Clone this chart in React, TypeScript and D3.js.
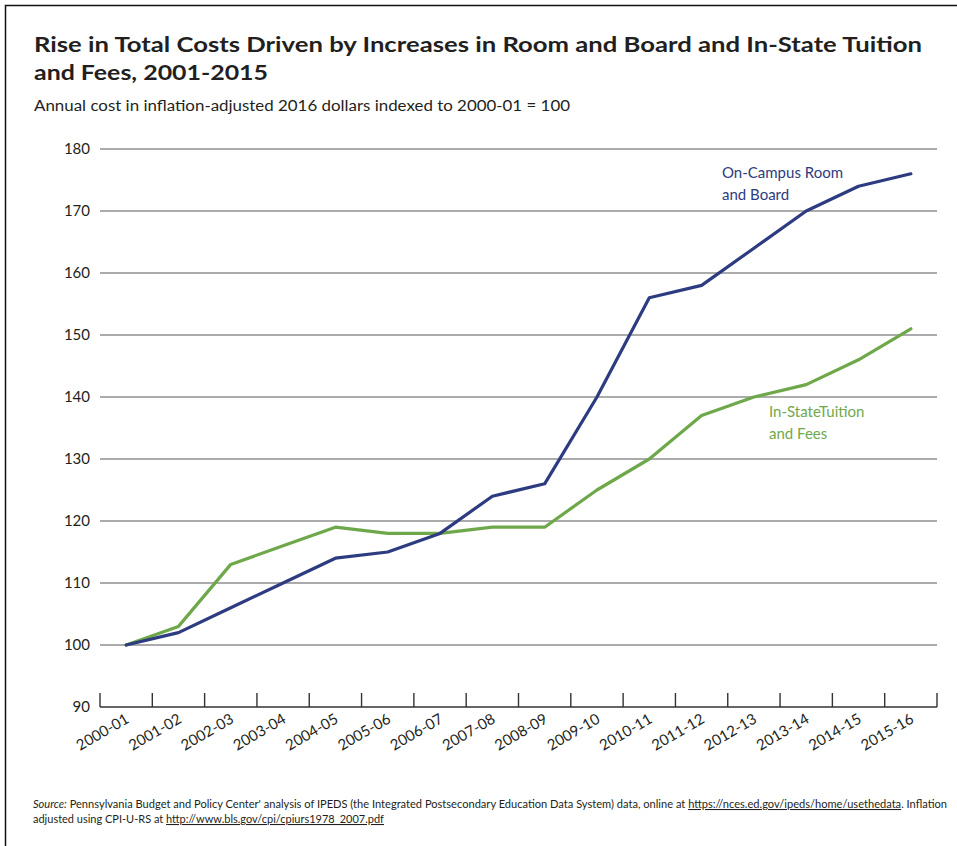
import React from "react";
import * as d3 from "d3";

const years = ["2000-01","2001-02","2002-03","2003-04","2004-05","2005-06","2006-07","2007-08","2008-09","2009-10","2010-11","2011-12","2012-13","2013-14","2014-15","2015-16"];
const roomBoard = [100,102,106,110,114,115,118,124,126,140,156,158,164,170,174,176];
const tuition = [100,103,113,116,119,118,118,119,119,125,130,137,140,142,146,151];
const yTicks = [90,100,110,120,130,140,150,160,170,180];

const W = 957, H = 846;
const FONT = "Lato, 'Open Sans', sans-serif";
const BLUE = "#2d3b80";
const GREEN = "#6fa84b";
const DARK = "#231f20";

export default function App() {
  const x = d3.scaleBand<string>().domain(years).range([100, 937]).padding(0);
  const y = d3.scaleLinear().domain([90, 180]).range([707, 149]);
  const cx = (d: string) => (x(d) as number) + x.bandwidth() / 2;
  const line = d3.line<number>().x((_, i) => cx(years[i])).y(v => y(v));
  const edges = years.map(d => x(d) as number).concat([937]);

  return (
    <svg width={W} height={H} style={{ position: "absolute", left: 0, top: 0, background: "#fff" }} fontFamily={FONT}>
      <rect x={0} y={0} width={W} height={H} fill="#fff" />
      <rect x={5.5} y={5.5} width={W + 10} height={H + 10} fill="none" stroke="#111" strokeWidth={1.5} />
      <text x={34} y={52} fontSize={21} fontWeight={700} fill={DARK} textLength={888} lengthAdjust="spacingAndGlyphs">
        Rise in Total Costs Driven by Increases in Room and Board and In-State Tuition
      </text>
      <text x={34} y={80} fontSize={21} fontWeight={700} fill={DARK} textLength={234} lengthAdjust="spacingAndGlyphs">
        and Fees, 2001-2015
      </text>
      <text x={34} y={111} fontSize={14.5} fill={DARK} textLength={536} lengthAdjust="spacingAndGlyphs">
        Annual cost in inflation-adjusted 2016 dollars indexed to 2000-01 = 100
      </text>

      {yTicks.filter(t => t > 90).map(t => (
        <line key={"g" + t} x1={100} x2={937} y1={y(t)} y2={y(t)} stroke="#8f8f8f" strokeWidth={1.3} />
      ))}
      {yTicks.map(t => (
        <text key={"yl" + t} x={90} y={y(t)} dy="0.36em" textAnchor="end" fontSize={15} fill={DARK}>{t}</text>
      ))}
      <line x1={100} x2={937} y1={707} y2={707} stroke="#333" strokeWidth={1.4} />
      {edges.map((e, i) => (
        <line key={"t" + i} x1={e} x2={e} y1={707} y2={693} stroke="#333" strokeWidth={1.4} />
      ))}
      {years.map(d => (
        <text key={"xl" + d} transform={`translate(${cx(d) + 4},${722}) rotate(-30)`} textAnchor="end" fontSize={15} fill={DARK}>{d}</text>
      ))}

      <path d={line(tuition) || ""} fill="none" stroke={GREEN} strokeWidth={3.2} strokeLinejoin="round" strokeLinecap="round" />
      <path d={line(roomBoard) || ""} fill="none" stroke={BLUE} strokeWidth={3.2} strokeLinejoin="round" strokeLinecap="round" />

      <text fontSize={15} fill={BLUE}>
        <tspan x={722} y={178}>On-Campus Room</tspan>
        <tspan x={722} y={200}>and Board</tspan>
      </text>
      <text fontSize={15} fill={GREEN}>
        <tspan x={769} y={417}>In-StateTuition</tspan>
        <tspan x={769} y={439}>and Fees</tspan>
      </text>

      <text x={33} y={808} fontSize={10.5} fill={DARK} textLength={914} lengthAdjust="spacingAndGlyphs">
        <tspan fontStyle="italic">Source:</tspan>
        <tspan> Pennsylvania Budget and Policy Center' analysis of IPEDS (the Integrated Postsecondary Education Data System) data, online at </tspan>
        <tspan textDecoration="underline">https://nces.ed.gov/ipeds/home/usethedata</tspan>
        <tspan>. Inflation</tspan>
      </text>
      <text x={33} y={823} fontSize={10.5} fill={DARK} textLength={351} lengthAdjust="spacingAndGlyphs">
        <tspan>adjusted using CPI-U-RS at </tspan>
        <tspan textDecoration="underline">http://www.bls.gov/cpi/cpiurs1978_2007.pdf</tspan>
      </text>
    </svg>
  );
}
